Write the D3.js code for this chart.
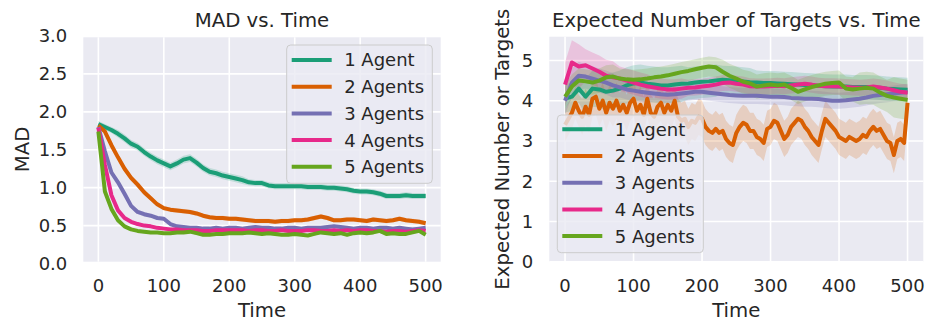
<!DOCTYPE html>
<html>
<head>
<meta charset="utf-8">
<script src="https://cdn.jsdelivr.net/npm/d3@7"></script>
<style>
  body { margin: 0; background: #ffffff; }
  text { font-family: "DejaVu Sans", sans-serif; fill: #262626; }
</style>
</head>
<body>
<div class="chart"></div>
<script>
// ---- data ----
var seriesNames = ["1 Agent", "2 Agents", "3 Agents", "4 Agents", "5 Agents"];
var seriesColors = ["#1b9e77", "#d95f02", "#7570b3", "#e7298a", "#66a61e"];

// MAD panel, one value every 10 time steps
var madAgent1 = [1.84,1.80,1.76,1.71,1.65,1.58,1.54,1.47,1.41,1.36,1.32,
  1.28,1.32,1.37,1.39,1.33,1.26,1.21,1.19,1.16,1.14,
  1.12,1.10,1.07,1.06,1.06,1.03,1.02,1.02,1.02,1.02,
  1.02,1.01,1.01,1.01,1.00,1.00,0.99,0.98,0.96,0.95,
  0.95,0.94,0.92,0.89,0.89,0.89,0.90,0.89,0.89,0.89];
var madAgent2 = [1.82,1.74,1.56,1.40,1.25,1.13,1.04,0.94,0.86,0.78,0.73,
  0.71,0.70,0.69,0.68,0.66,0.63,0.61,0.60,0.60,0.59,
  0.59,0.58,0.57,0.56,0.56,0.56,0.55,0.56,0.56,0.57,
  0.57,0.58,0.60,0.62,0.60,0.57,0.57,0.58,0.58,0.57,
  0.56,0.58,0.57,0.56,0.57,0.59,0.57,0.56,0.55,0.53];
var madAgent3 = [1.80,1.48,1.20,1.07,0.92,0.76,0.68,0.65,0.63,0.60,0.59,
  0.52,0.49,0.48,0.47,0.47,0.46,0.46,0.47,0.46,0.47,
  0.47,0.46,0.47,0.48,0.47,0.47,0.46,0.46,0.47,0.47,
  0.46,0.47,0.47,0.47,0.48,0.49,0.48,0.47,0.46,0.47,
  0.47,0.46,0.47,0.47,0.46,0.47,0.46,0.45,0.46,0.47];
var madAgent4 = [1.79,1.30,0.90,0.70,0.60,0.55,0.52,0.50,0.49,0.47,0.46,
  0.45,0.45,0.44,0.44,0.44,0.43,0.43,0.44,0.44,0.44,
  0.44,0.44,0.43,0.44,0.44,0.43,0.43,0.44,0.43,0.43,
  0.43,0.44,0.44,0.43,0.43,0.44,0.43,0.44,0.43,0.44,
  0.44,0.43,0.43,0.42,0.43,0.43,0.42,0.43,0.44,0.43];
var madAgent5 = [1.74,0.95,0.72,0.57,0.49,0.45,0.43,0.42,0.41,0.41,0.40,
  0.40,0.41,0.41,0.42,0.40,0.38,0.38,0.39,0.39,0.40,
  0.40,0.40,0.41,0.40,0.39,0.40,0.39,0.38,0.38,0.39,
  0.38,0.37,0.39,0.41,0.40,0.39,0.40,0.38,0.40,0.41,
  0.40,0.41,0.43,0.39,0.40,0.39,0.39,0.41,0.43,0.38];
// half width of the shaded band, one value per 50 time steps
var madBand1 = [0.04,0.05,0.05,0.05,0.05,0.04,0.04,0.04,0.04,0.04,0.04];
var madBand2 = [0.03,0.04,0.03,0.03,0.03,0.03,0.03,0.03,0.03,0.03,0.03];
var madBand3 = [0.03,0.03,0.02,0.02,0.02,0.02,0.02,0.02,0.02,0.02,0.02];
var madBand4 = [0.03,0.02,0.02,0.02,0.02,0.02,0.02,0.02,0.02,0.02,0.02];
var madBand5 = [0.03,0.02,0.02,0.02,0.02,0.02,0.02,0.02,0.02,0.02,0.02];

// Expected number of targets panel, every 10 steps (agent 2: every 5 steps)
var tgtAgent1 = [4.05,4.10,4.30,4.10,4.30,4.28,4.22,4.25,4.30,4.38,4.43,
  4.45,4.42,4.40,4.38,4.38,4.40,4.42,4.43,4.45,4.47,
  4.48,4.50,4.52,4.51,4.50,4.48,4.46,4.45,4.44,4.44,
  4.43,4.42,4.41,4.40,4.39,4.38,4.37,4.36,4.35,4.35,
  4.35,4.34,4.34,4.34,4.33,4.32,4.30,4.29,4.28,4.27];
var tgtAgent2 = [3.40,3.55,3.70,3.95,3.75,3.60,3.85,3.65,4.05,4.10,
  3.80,4.00,3.70,3.95,3.80,4.00,3.75,3.90,3.70,3.95,
  4.05,3.75,3.90,3.65,4.05,3.70,3.60,3.85,3.95,3.70,
  3.90,3.75,4.00,3.60,3.50,3.55,3.35,3.50,3.45,3.60,
  3.55,3.35,3.25,3.20,3.30,3.20,3.25,3.05,2.95,2.90,
  3.20,3.35,3.45,3.40,3.25,3.25,3.10,3.05,2.95,3.30,
  3.35,3.50,3.45,3.25,3.05,3.15,3.35,3.45,3.55,3.50,
  3.35,3.25,3.10,3.00,2.90,3.25,3.55,3.45,3.35,3.25,
  3.10,3.05,3.00,3.10,3.05,3.00,3.05,3.15,3.10,3.25,
  3.35,3.25,3.30,3.15,3.00,2.95,2.65,3.00,3.05,2.95,
  3.95];
var tgtAgent3 = [4.00,4.45,4.62,4.60,4.55,4.50,4.45,4.38,4.33,4.28,4.25,
  4.22,4.20,4.18,4.16,4.15,4.16,4.18,4.20,4.22,4.22,
  4.20,4.18,4.16,4.14,4.13,4.12,4.12,4.12,4.11,4.10,
  4.10,4.09,4.07,4.06,4.05,4.05,4.04,4.02,4.00,4.00,
  4.01,4.03,4.05,4.08,4.12,4.14,4.16,4.18,4.20,4.22];
var tgtAgent4 = [4.40,4.95,4.85,4.88,4.80,4.72,4.62,4.58,4.55,4.50,4.45,
  4.40,4.36,4.33,4.30,4.28,4.28,4.30,4.32,4.33,4.35,
  4.37,4.40,4.44,4.45,4.42,4.40,4.36,4.35,4.35,4.36,
  4.37,4.36,4.38,4.40,4.42,4.40,4.37,4.36,4.36,4.35,
  4.34,4.33,4.32,4.33,4.35,4.33,4.30,4.26,4.22,4.20];
var tgtAgent5 = [4.10,4.35,4.50,4.48,4.45,4.50,4.58,4.60,4.55,4.53,4.52,
  4.53,4.55,4.58,4.60,4.63,4.67,4.71,4.74,4.78,4.82,
  4.85,4.83,4.72,4.62,4.55,4.47,4.43,4.35,4.38,4.40,
  4.38,4.40,4.32,4.22,4.28,4.34,4.38,4.42,4.44,4.45,
  4.30,4.28,4.30,4.32,4.30,4.20,4.12,4.08,4.05,4.02];
var tgtBand1 = [0.35,0.45,0.45,0.45,0.40,0.35,0.30,0.30,0.30,0.30,0.30];
var tgtBand2 = [0.40,0.45,0.45,0.45,0.45,0.45,0.45,0.45,0.45,0.45,0.45];
var tgtBand3 = [0.35,0.30,0.25,0.20,0.20,0.20,0.20,0.20,0.20,0.20,0.20];
var tgtBand4 = [0.55,0.40,0.30,0.25,0.20,0.20,0.20,0.20,0.20,0.20,0.20];
var tgtBand5 = [0.30,0.30,0.25,0.25,0.25,0.30,0.30,0.30,0.30,0.40,0.50];

var xTicks = [0, 100, 200, 300, 400, 500];
var madTicks = [0, 0.5, 1, 1.5, 2, 2.5, 3];
var tgtTicks = [0, 1, 2, 3, 4, 5];

// ---- chart ----
var svg = d3.select(".chart")
  .append("svg")
  .attr("width", 928)
  .attr("height", 324);

// turns one array of values into points; step = time steps between values
function toPoints(values, step, band) {
  return values.map(function (v, i) {
    var t = i * step;
    var hw = band[Math.min(band.length - 1, Math.round(t / 50))];
    return { t: t, y: v, lo: v - hw, hi: v + hw };
  });
}

function drawPanel(cfg) {
  var x = d3.scaleLinear().domain([-23, 523]).range([cfg.left, cfg.right]);
  var y = d3.scaleLinear().domain(cfg.yDomain).range(cfg.yRange);

  var g = svg.append("g");

  g.append("rect")
    .attr("x", cfg.left)
    .attr("y", cfg.top)
    .attr("width", cfg.right - cfg.left)
    .attr("height", cfg.bottom - cfg.top)
    .attr("fill", "#eaeaf2");

  g.append("clipPath")
    .attr("id", cfg.id + "-clip")
    .append("rect")
    .attr("x", cfg.left)
    .attr("y", cfg.top)
    .attr("width", cfg.right - cfg.left)
    .attr("height", cfg.bottom - cfg.top);

  // gridlines
  g.selectAll(".vgrid")
    .data(xTicks)
    .enter().append("line")
    .attr("x1", function (d) { return x(d); })
    .attr("x2", function (d) { return x(d); })
    .attr("y1", cfg.top)
    .attr("y2", cfg.bottom)
    .attr("stroke", "#ffffff")
    .attr("stroke-width", 1.6);

  g.selectAll(".hgrid")
    .data(cfg.yTicks)
    .enter().append("line")
    .attr("x1", cfg.left)
    .attr("x2", cfg.right)
    .attr("y1", function (d) { return y(d); })
    .attr("y2", function (d) { return y(d); })
    .attr("stroke", "#ffffff")
    .attr("stroke-width", 1.6);

  // tick labels
  g.selectAll(".xtick")
    .data(xTicks)
    .enter().append("text")
    .attr("x", function (d) { return x(d); })
    .attr("y", 291.5)
    .attr("text-anchor", "middle")
    .style("font-size", "18px")
    .text(function (d) { return d; });

  g.selectAll(".ytick")
    .data(cfg.yTicks)
    .enter().append("text")
    .attr("x", cfg.left - 16)
    .attr("y", function (d) { return y(d); })
    .attr("dy", "0.36em")
    .attr("text-anchor", "end")
    .style("font-size", "18px")
    .text(cfg.yFormat);

  var plot = g.append("g").attr("clip-path", "url(#" + cfg.id + "-clip)");

  var area = d3.area()
    .x(function (d) { return x(d.t); })
    .y0(function (d) { return y(d.lo); })
    .y1(function (d) { return y(d.hi); });

  var line = d3.line()
    .x(function (d) { return x(d.t); })
    .y(function (d) { return y(d.y); });

  cfg.series.forEach(function (s, i) {
    plot.append("path")
      .datum(s)
      .attr("d", area)
      .attr("fill", seriesColors[i])
      .attr("fill-opacity", 0.2);
  });

  cfg.series.forEach(function (s, i) {
    plot.append("path")
      .datum(s)
      .attr("d", line)
      .attr("fill", "none")
      .attr("stroke", seriesColors[i])
      .attr("stroke-width", 4)
      .attr("stroke-linejoin", "round");
  });

  // title and axis labels
  g.append("text")
    .attr("x", (cfg.left + cfg.right) / 2)
    .attr("y", 26.5)
    .attr("text-anchor", "middle")
    .style("font-size", "19.7px")
    .text(cfg.title);

  g.append("text")
    .attr("x", (cfg.left + cfg.right) / 2)
    .attr("y", 317)
    .attr("text-anchor", "middle")
    .style("font-size", "19.7px")
    .text("Time");

  g.append("text")
    .attr("transform", "translate(" + cfg.yLabelX + "," + ((cfg.top + cfg.bottom) / 2) + ") rotate(-90)")
    .attr("text-anchor", "middle")
    .style("font-size", "19.7px")
    .text(cfg.yLabel);

  // legend
  var lg = cfg.legend;
  g.append("rect")
    .attr("x", lg.x)
    .attr("y", lg.y)
    .attr("width", lg.w)
    .attr("height", lg.h)
    .attr("rx", 4)
    .attr("fill", "#eaeaf2")
    .attr("fill-opacity", 0.8)
    .attr("stroke", "#cccccc")
    .attr("stroke-width", 1);

  seriesNames.forEach(function (name, i) {
    var cy = lg.firstRow + i * 26.7;
    g.append("line")
      .attr("x1", lg.x + 5)
      .attr("x2", lg.x + 45)
      .attr("y1", cy)
      .attr("y2", cy)
      .attr("stroke", seriesColors[i])
      .attr("stroke-width", 4);
    g.append("text")
      .attr("x", lg.x + 57.5)
      .attr("y", cy)
      .attr("dy", "0.36em")
      .style("font-size", "18px")
      .text(name);
  });
}

drawPanel({
  id: "mad",
  left: 83.3, right: 440.7, top: 37.3, bottom: 261.7,
  yDomain: [0, 3], yRange: [263.5, 36],
  yTicks: madTicks,
  yFormat: d3.format(".1f"),
  title: "MAD vs. Time",
  yLabel: "MAD",
  yLabelX: 28.5,
  series: [
    toPoints(madAgent1, 10, madBand1),
    toPoints(madAgent2, 10, madBand2),
    toPoints(madAgent3, 10, madBand3),
    toPoints(madAgent4, 10, madBand4),
    toPoints(madAgent5, 10, madBand5)
  ],
  legend: { x: 286.7, y: 45, w: 145.6, h: 138.3, firstRow: 60 }
});

drawPanel({
  id: "tgt",
  left: 549.3, right: 923.3, top: 36.7, bottom: 261.7,
  yDomain: [0, 5.59], yRange: [261.7, 36.7],
  yTicks: tgtTicks,
  yFormat: d3.format("d"),
  title: "Expected Number of Targets vs. Time",
  yLabel: "Expected Number or Targets",
  yLabelX: 508.5,
  series: [
    toPoints(tgtAgent1, 10, tgtBand1),
    toPoints(tgtAgent2, 5, tgtBand2),
    toPoints(tgtAgent3, 10, tgtBand3),
    toPoints(tgtAgent4, 10, tgtBand4),
    toPoints(tgtAgent5, 10, tgtBand5)
  ],
  legend: { x: 557.3, y: 115, w: 146, h: 137.7, firstRow: 129.3 }
});
</script>
</body>
</html>
